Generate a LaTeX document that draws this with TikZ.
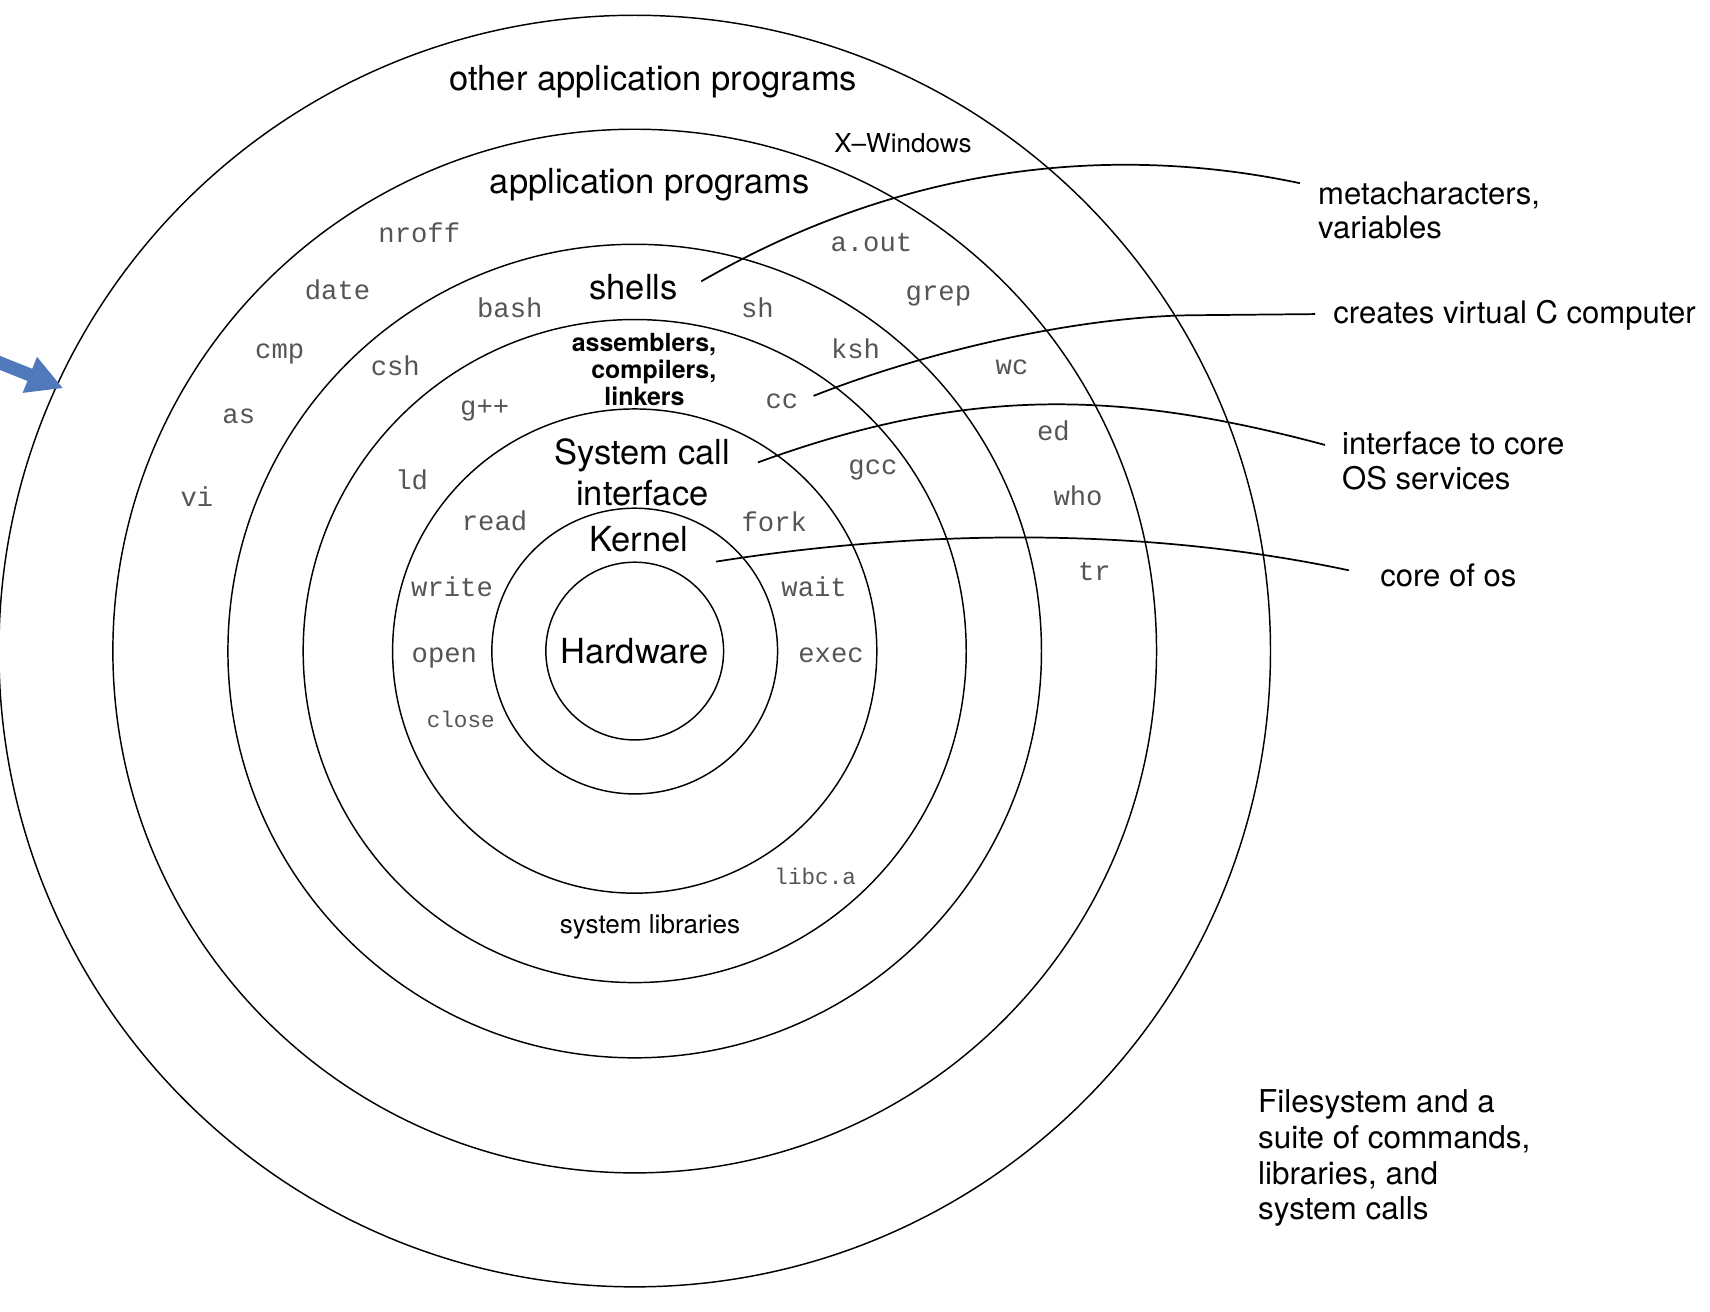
\documentclass[tikz,border=0pt]{standalone}
\usepackage{fontspec}
\setmainfont{TeX Gyre Heros}
\setmonofont{Liberation Mono}
\usetikzlibrary{arrows.meta}
\definecolor{arrowblue}{RGB}{79,121,187}
\definecolor{cmdgray}{RGB}{85,85,85}
\begin{document}
\begin{tikzpicture}[x=0.01cm,y=-0.01cm,
  ring/.style={draw=black,line width=0.38pt},
  link/.style={draw=black,line width=0.45pt},
  big/.style={font=\fontsize{9}{10.8}\selectfont,inner sep=0pt,align=center},
  tool/.style={font=\fontsize{6.5}{7}\selectfont\bfseries,inner sep=0pt},
  mid/.style={font=\fontsize{6.8}{8}\selectfont,inner sep=0pt},
  note/.style={font=\fontsize{8.1}{9}\selectfont,inner sep=0pt,align=left,anchor=west},
  cmd/.style={font=\fontsize{7.1}{8}\ttfamily,text=cmdgray,inner sep=0pt},
  cmdsmall/.style={font=\fontsize{5.9}{7}\ttfamily,text=cmdgray,inner sep=0pt},
]
\useasboundingbox (0,0) rectangle (1568,1203);

% rings
\coordinate (O) at (582,597);
\draw[ring] (O) circle[radius=81.5];
\draw[ring] (O) circle[radius=131];
\draw[ring] (O) circle[radius=222];
\draw[ring] (O) circle[radius=304];
\draw[ring] (O) circle[radius=373];
\draw[ring] (O) circle[radius=478.5];
\draw[ring] (O) circle[radius=583];

% layer names
\node[big] (other) at (599,75) {other application programs};
\node[mid] (xwin) at (828,131) {X–Windows};
\node[big] (app) at (596,169) {application programs};
\node[big] (shells) at (581,263) {shells};
\node[tool] (asm1) at (590.5,316) {assemblers,};
\node[tool] (asm2) at (599.5,341) {compilers,};
\node[tool] (asm3) at (591,363) {linkers};
\node[big] (syscall) at (589,433) {System call\\interface};
\node[big] (kernel) at (586,494) {Kernel};
\node[big] (hw) at (582,597) {Hardware};
\node[mid] (syslib) at (596,850) {system libraries};

% commands
\node[cmd] (nroff) at (384.5,213) {nroff};
\node[cmd] (aout) at (799,222) {a.out};
\node[cmd] (date) at (309.5,266) {date};
\node[cmd] (grep) at (860.5,271) {grep};
\node[cmd] (bash) at (467.5,282) {bash};
\node[cmd] (sh) at (694.5,282) {sh};
\node[cmd] (cmp) at (256.5,325) {cmp};
\node[cmd] (ksh) at (784.5,320) {ksh};
\node[cmd] (csh) at (362.5,335) {csh};
\node[cmd] (wc) at (928,337) {wc};
\node[cmd] (cc) at (717,368) {cc};
\node[cmd] (gpp) at (444.5,376) {g++};
\node[cmd] (as) at (219,382) {as};
\node[cmd] (ed) at (966,395) {ed};
\node[cmd] (gcc) at (800.5,431) {gcc};
\node[cmd] (ld) at (377.5,440) {ld};
\node[cmd] (vi) at (180.5,455) {vi};
\node[cmd] (who) at (988.5,455) {who};
\node[cmd] (read) at (453.5,478) {read};
\node[cmd] (fork) at (710,478) {fork};
\node[cmd] (tr) at (1003.5,524) {tr};
\node[cmd] (write) at (414.5,538) {write};
\node[cmd] (wait) at (746.5,538) {wait};
\node[cmd] (open) at (407.5,603) {open};
\node[cmd] (exec) at (762,601) {exec};
\node[cmdsmall] (close) at (422.5,660) {close};
\node[cmdsmall] (libc) at (747.5,804) {libc.a};

% notes
\node[note] (meta) at (1208,193) {metacharacters,\\variables};
\node[note] (virt) at (1222,289) {creates virtual C computer};
\node[note] (iface) at (1230,422.5) {interface to core\\OS services};
\node[note] (core) at (1265,528) {core of os};
\node[note,font=\fontsize{8.2}{9.3}\selectfont] (fs) at (1153,1062)
  {Filesystem and a\\suite of commands,\\libraries, and\\system calls};

% connector ends
\coordinate (shellsL) at (643,258);
\coordinate (metaL) at (1192,168);
\coordinate (ccL) at (746,363);
\coordinate (virtL) at (1206,288);
\coordinate (sysL) at (695,424);
\coordinate (ifaceL) at (1215,408);
\coordinate (kernL) at (656.5,515);
\coordinate (coreL) at (1237,523);

\draw[link] (shellsL) .. controls (859.5,133) and (1060,140) .. (metaL);
\draw[link] (ccL) .. controls (860,318) and (1000,289) .. (1100,289) -- (virtL);
\draw[link] (sysL) .. controls (883,355.6) and (1022,356.2) .. (ifaceL);
\draw[link] (kernL) .. controls (834.3,486.8) and (1041.4,481.4) .. (coreL);

% blue arrow
\coordinate (arrS) at (-12,328);
\coordinate (arrT) at (58,356);
\draw[arrowblue,line width=0.12cm,-{Triangle[length=0.33cm,width=0.33cm]}] (arrS) -- (arrT);
\end{tikzpicture}
\end{document}
